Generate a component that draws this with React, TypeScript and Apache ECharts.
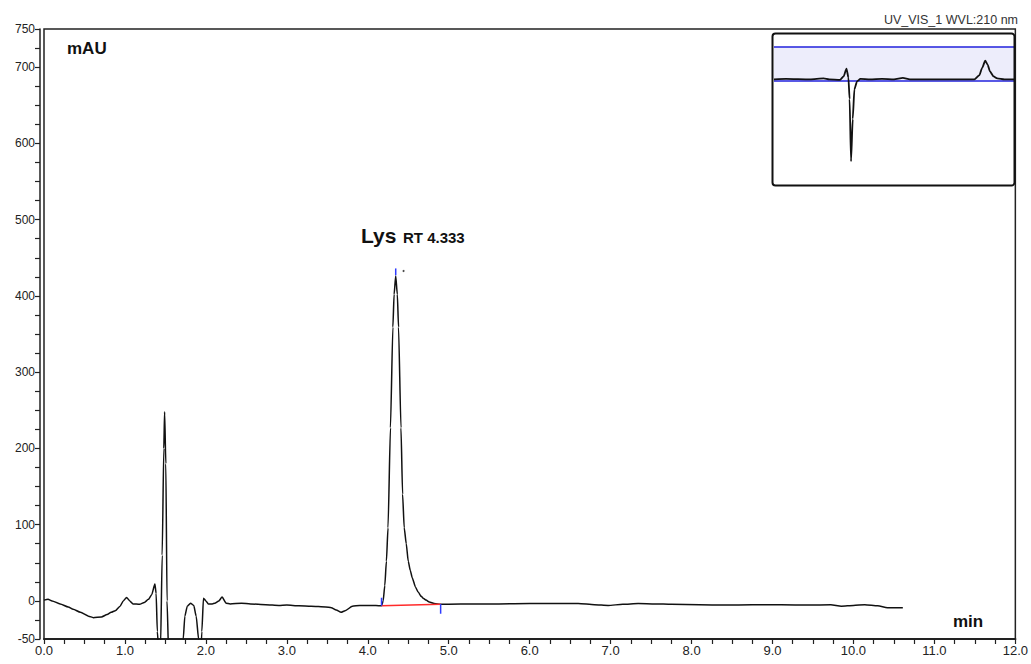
import React, { useEffect, useRef } from "react";
import * as echarts from "echarts";

// Main chromatogram trace (time in min, absorbance in mAU)
const times = [
  0.0, 0.05, 0.1, 0.2, 0.3, 0.36, 0.45, 0.55, 0.61, 0.71, 0.78, 0.83, 0.88, 0.94, 0.98,
  1.02, 1.06, 1.1, 1.18, 1.24, 1.29, 1.33, 1.37, 1.385, 1.4, 1.42, 1.44, 1.46, 1.48, 1.49,
  1.505, 1.52, 1.54, 1.6, 1.7, 1.72, 1.74, 1.77, 1.81, 1.85, 1.88, 1.91, 1.93, 1.95, 1.97,
  2.0, 2.03, 2.08, 2.11, 2.16, 2.2, 2.25, 2.3, 2.44, 2.55, 2.74, 2.9, 3.0, 3.15, 3.3,
  3.48, 3.55, 3.61, 3.67, 3.72, 3.81, 3.9, 3.98, 4.1, 4.17, 4.19, 4.21, 4.23, 4.25, 4.28,
  4.31, 4.325, 4.345, 4.365, 4.38, 4.41, 4.43, 4.45, 4.475, 4.5, 4.525, 4.55, 4.59, 4.62,
  4.66, 4.69, 4.72, 4.76, 4.82, 4.9, 5.0, 5.3, 5.62, 6.0, 6.3, 6.6, 6.8, 6.97, 7.15,
  7.34, 7.55, 7.75, 8.1, 8.41, 8.75, 9.11, 9.45, 9.72, 9.85, 10.0, 10.14, 10.3, 10.42, 10.61,
];
const values = [
  1, 2, 0, -4, -8, -11, -15, -20, -22, -21, -18, -15, -13, -7, 0,
  4.5, 0, -4, -4.5, -2, 2, 8, 22, 10, -40, -70, -60, 60, 200, 248,
  180, 0, -70, -120, -100, -50, -20, -7, -3, -6, -20, -50, -90, -40, 3.5,
  0, -4, -4, -3, 0, 5, -3, -4, -3, -4, -5, -6, -5.5, -6.5, -7,
  -8, -9, -12, -15, -13, -7, -6, -6, -6, -6.5, 0, 20, 52, 96, 227,
  359, 402, 426, 402, 359, 227, 140, 96, 75, 52, 40, 30, 18, 12,
  6, 3, 1, -1.5, -3.5, -4.5, -4.5, -4, -4, -3.5, -3.5, -3.5, -5, -6, -4.5,
  -3.5, -4, -4.5, -5, -5.5, -5, -5, -5.5, -5, -7, -6, -5, -6.5, -9, -9,
];

// Integration baseline of the Lys peak
const baselineTimes = [4.17, 4.9];
const baselineValues = [-6.5, -4.5];

// Peak delimiter ticks: [time, low, high]
const markerTimes = [4.17, 4.345, 4.9];
const markerLow = [-6.5, 427, -17];
const markerHigh = [4, 436, -4];

// Axis tick labels
const yLabelValues = [-50, 0, 100, 200, 300, 400, 500, 600, 700, 750];

// Overview inset trace (relative position 0-100, relative signal)
const insetX = [
  0, 5, 15, 20.7, 23, 27.5, 29, 30.2, 31, 31.5, 32.1, 32.8, 33.5, 34.6, 36, 40, 45, 50,
  53.7, 56.6, 70, 83.5, 85.5, 86.8, 88, 89, 90, 91.5, 93, 96, 100,
];
const insetY = [
  0, 0.5, 0, 1, 0, -0.5, 3, 11, 2, -20, -83, -40, -10, -2, 0.5, 0, 0.5, 0,
  1.5, 0, 0, 0, 4, 12, 19, 15, 8, 3, 1, 0, 0,
];
const insetBandLow = -1;
const insetBandHigh = 33;

const FONT = "'Liberation Sans', Arial, sans-serif";

export default function App() {
  const ref = useRef<HTMLDivElement>(null);

  useEffect(() => {
    if (!ref.current) return;
    const chart = echarts.init(ref.current, null, { renderer: "svg" });

    const mainData = times.map((t, i) => [t, values[i]]);
    const baseData = baselineTimes.map((t, i) => [t, baselineValues[i]]);
    const insetData = insetX.map((x, i) => [x, insetY[i]]);

    const markerSeries = markerTimes.map((t, i) => ({
      type: "line",
      xAxisIndex: 0,
      yAxisIndex: 0,
      data: [
        [t, markerLow[i]],
        [t, markerHigh[i]],
      ],
      symbol: "none",
      lineStyle: { color: "#2f3cff", width: 1.5 },
      silent: true,
      z: 4,
    }));

    chart.setOption({
      animation: false,
      backgroundColor: "#ffffff",
      textStyle: { fontFamily: FONT },
      grid: [
        {
          left: 44,
          right: 13,
          top: 29,
          bottom: 25,
          show: true,
          borderColor: "#222",
          borderWidth: 1.5,
          containLabel: false,
        },
        {
          left: 774,
          top: 35,
          width: 240,
          height: 149,
          show: false,
        },
      ],
      xAxis: [
        {
          type: "value",
          gridIndex: 0,
          min: 0,
          max: 12,
          interval: 0.25,
          axisLine: { show: true, onZero: false, lineStyle: { color: "#222", width: 2 } },
          axisTick: { show: true, length: 5, lineStyle: { color: "#222", width: 1.2 } },
          splitLine: { show: false },
          axisLabel: {
            color: "#222",
            fontSize: 13,
            fontFamily: FONT,
            margin: 5,
            showMinLabel: true,
            showMaxLabel: true,
            formatter: (v: number) =>
              Math.abs(v - Math.round(v)) < 1e-6 ? v.toFixed(1) : "",
          },
        },
        {
          type: "value",
          gridIndex: 1,
          min: 0,
          max: 100,
          show: false,
        },
      ],
      yAxis: [
        {
          type: "value",
          gridIndex: 0,
          min: -50,
          max: 750,
          interval: 25,
          offset: 4,
          axisLine: { show: true, onZero: false, lineStyle: { color: "#222", width: 1.5 } },
          axisTick: { show: true, length: 5, lineStyle: { color: "#222", width: 1.2 } },
          splitLine: { show: false },
          axisLabel: {
            color: "#222",
            fontSize: 12,
            fontFamily: FONT,
            margin: 5,
            showMinLabel: true,
            showMaxLabel: true,
            formatter: (v: number) => (yLabelValues.includes(v) ? String(v) : ""),
          },
        },
        {
          type: "value",
          gridIndex: 1,
          min: -106,
          max: 45,
          show: false,
        },
      ],
      series: [
        {
          type: "line",
          xAxisIndex: 0,
          yAxisIndex: 0,
          data: mainData,
          symbol: "none",
          clip: true,
          smooth: 0.2,
          smoothMonotone: "x",
          lineStyle: { color: "#111", width: 1.5 },
          silent: true,
          z: 3,
        },
        {
          type: "line",
          xAxisIndex: 0,
          yAxisIndex: 0,
          data: baseData,
          symbol: "none",
          lineStyle: { color: "#ff2a2a", width: 1.5 },
          silent: true,
          z: 4,
        },
        ...markerSeries,
        {
          type: "line",
          xAxisIndex: 1,
          yAxisIndex: 1,
          data: insetData,
          symbol: "none",
          clip: true,
          smooth: 0.2,
          smoothMonotone: "x",
          lineStyle: { color: "#111", width: 1.8 },
          silent: true,
          z: 5,
          markArea: {
            silent: true,
            itemStyle: { color: "#ededfb" },
            data: [[{ yAxis: insetBandLow }, { yAxis: insetBandHigh }]],
          },
          markLine: {
            silent: true,
            symbol: "none",
            label: { show: false },
            lineStyle: { color: "#2222dd", width: 1.5, type: "solid" },
            data: [{ yAxis: insetBandLow }, { yAxis: insetBandHigh }],
          },
        },
      ],
      graphic: [
        {
          type: "rect",
          shape: { x: 772.5, y: 33.5, width: 242, height: 152, r: 3 },
          style: { fill: "none", stroke: "#111", lineWidth: 2 },
          z: 10,
          silent: true,
        },
        {
          type: "text",
          left: 67,
          top: 40,
          style: {
            text: "mAU",
            font: `bold 17px ${FONT}`,
            fill: "#111",
          },
        },
        {
          type: "text",
          left: 953,
          top: 613,
          style: {
            text: "min",
            font: `bold 17px ${FONT}`,
            fill: "#111",
          },
        },
        {
          type: "text",
          right: 13,
          top: 13,
          style: {
            text: "UV_VIS_1 WVL:210 nm",
            font: `12.5px ${FONT}`,
            fill: "#333",
          },
        },
        {
          type: "text",
          left: 361,
          top: 225,
          style: {
            text: "Lys",
            font: `bold 21px ${FONT}`,
            fill: "#111",
          },
        },
        {
          type: "text",
          left: 403,
          top: 230,
          style: {
            text: "RT 4.333",
            font: `bold 15px ${FONT}`,
            fill: "#111",
          },
        },
        {
          type: "circle",
          shape: { cx: 403.5, cy: 271, r: 1 },
          style: { fill: "#444" },
        },
      ],
    });

    return () => chart.dispose();
  }, []);

  return (
    <div
      ref={ref}
      style={{
        position: "fixed",
        left: 0,
        top: 0,
        width: 1031,
        height: 664,
        background: "#fff",
      }}
    />
  );
}
